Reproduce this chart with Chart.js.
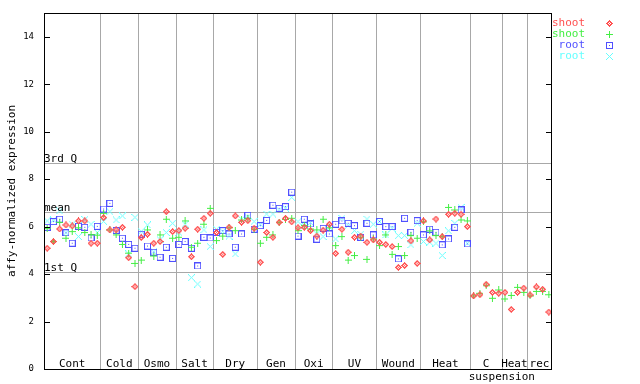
<!DOCTYPE html>
<html>
<head>
<meta charset="utf-8">
<script src="https://cdn.jsdelivr.net/npm/chart.js"></script>
<style>
  html, body { margin: 0; padding: 0; background: #fff; }
  #wrap { width: 640px; height: 384px; }
</style>
</head>
<body>
<div id="wrap"><canvas id="chart" width="640" height="384"></canvas></div>
<script>
// experiment groups along x, and how many samples each one holds
const groups = ['Cont', 'Cold', 'Osmo', 'Salt', 'Dry', 'Gen', 'Oxi', 'UV', 'Wound', 'Heat', 'C', 'Heat', 'rec'];
const groupSizes = [9, 6, 6, 6, 7, 6, 6, 7, 7, 8, 5, 4, 4];
const subLabel = { text: 'suspension', at: 73 };

const yTicks = [0, 2, 4, 6, 8, 10, 12, 14];
const quartileNames = ['3rd Q', 'mean', '1st Q'];
const quartileValues = [8.67, 6.60, 4.07];

// shoot (red diamonds)
const shootRed = [
  5.09, 5.37, 5.90, 6.07, 6.03, 6.24, 6.24, 5.30, 5.30,
  6.38, 5.86, 5.86, 5.97, 4.69, 3.47,
  5.54, 5.68, 5.30, 5.37, 6.63, 5.79,
  5.83, 5.93, 4.73, 5.89, 6.35, 6.56,
  5.75, 4.83, 5.97, 6.45, 6.18, 6.25, 5.93,
  4.50, 5.75, 5.55, 6.18, 6.35, 6.20,
  5.95, 5.97, 5.83, 5.60, 5.85, 6.10,
  4.87, 5.89, 4.92, 5.55, 5.60, 5.34, 5.44,
  5.34, 5.25, 5.16, 4.28, 4.36, 5.40, 4.45,
  6.24, 5.44, 6.32, 5.58, 6.52, 6.56, 6.52, 6.00,
  3.08, 3.13, 3.57, 3.23, 3.19,
  3.23, 2.51, 3.23, 3.41,
  3.12, 3.46, 3.36, 2.40
];
// shoot (green plus)
const shootGreen = [
  5.93, 5.37, 6.18, 5.51, 5.79, 5.95, 5.75, 5.66, 5.64,
  6.56, 5.86, 5.65, 5.25, 4.88, 4.45,
  4.59, 5.86, 4.76, 5.65, 6.31, 5.51,
  5.55, 6.24, 5.13, 5.30, 6.10, 6.77,
  5.41, 5.60, 5.95, 5.83, 6.28, 6.35, 5.89,
  5.30, 5.55, 5.65, 6.18, 6.30, 6.35,
  5.83, 6.05, 5.90, 5.86, 6.31, 5.95,
  5.20, 5.58, 4.59, 4.78, 5.53, 4.62, 5.48,
  5.20, 5.65, 4.83, 5.16, 4.78, 5.62, 5.51,
  6.20, 5.82, 5.62, 5.58, 6.81, 6.70, 6.28, 6.24,
  3.08, 3.19, 3.51, 2.98, 3.33,
  2.95, 3.10, 3.44, 3.23,
  3.08, 3.27, 3.27, 3.13
];
// root (blue squares), no suspension samples
const rootBlue = [
  5.97, 6.21, 6.31, 5.74, 5.30, 6.01, 5.97, 5.52, 6.01,
  6.74, 6.98, 5.84, 5.51, 5.25, 5.09,
  5.68, 5.18, 4.92, 4.71, 5.13, 4.66,
  5.25, 5.37, 5.09, 4.34, 5.55, 5.52,
  5.76, 5.83, 5.69, 5.13, 5.69, 6.48, 5.89,
  6.04, 6.26, 6.90, 6.77, 6.84, 7.45,
  5.60, 6.31, 6.11, 5.47, 5.93, 5.69,
  6.10, 6.24, 6.14, 6.04, 5.55, 6.14, 5.65,
  6.22, 6.00, 6.00, 4.64, 6.35, 5.76, 6.25,
  5.65, 5.89, 5.76, 5.23, 5.48, 5.97, 6.70, 5.27
];
// root (cyan crosses)
const rootCyan = [
  6.24, 6.28, 6.66, 5.74, 6.10, 5.58, 6.30, 6.10, 5.75,
  6.22, 6.63, 6.28, 6.45, 4.85, 6.39,
  5.80, 6.07, 4.94, 5.45, 5.75, 6.14,
  5.75, 6.10, 3.85, 3.58, 5.86, 5.16,
  5.89, 5.80, 5.60, 4.85, 6.31, 6.40, 6.21,
  6.10, 6.53, 6.53, 6.70, 6.78, 7.23,
  6.21, 6.05, 6.17, 5.70, 5.58, 5.97,
  5.48, 6.35, 6.05, 5.83, 5.68, 6.32, 6.10,
  6.21, 5.65, 5.93, 5.62, 5.62, 5.23, 6.14,
  5.37, 5.34, 5.30, 4.78, 5.82, 6.14, 6.81, 5.30
];

const RED = '#ff5050', GREEN = '#44ee44', BLUE = '#5050ff', CYAN = '#66ffff';
const MONO = '"DejaVu Sans Mono", "Liberation Mono", monospace';

// little pixel markers like the original plot
function marker(kind, color) {
  const c = document.createElement('canvas');
  c.width = 7; c.height = 7;
  const g = c.getContext('2d');
  g.fillStyle = color;
  for (let yy = 0; yy < 7; yy++) {
    for (let xx = 0; xx < 7; xx++) {
      const dx = Math.abs(xx - 3), dy = Math.abs(yy - 3);
      let on = false;
      if (kind === 'diamond') on = (dx + dy === 3) || (dx + dy < 3 && (xx + yy) % 2 === 0);
      if (kind === 'plus') on = dx === 0 || dy === 0;
      if (kind === 'square') on = Math.max(dx, dy) === 3 || (dx === 0 && dy === 0);
      if (kind === 'cross') on = dx === dy;
      if (on) g.fillRect(xx, yy, 1, 1);
    }
  }
  return c;
}

const series = [
  { label: 'shoot', color: RED, img: marker('diamond', RED), values: shootRed },
  { label: 'shoot', color: GREEN, img: marker('plus', GREEN), values: shootGreen },
  { label: 'root', color: BLUE, img: marker('square', BLUE), values: rootBlue },
  { label: 'root', color: CYAN, img: marker('cross', CYAN), values: rootCyan }
];

const totalSlots = groupSizes.reduce((s, n) => s + n, 0);

const decor = {
  id: 'decor',
  beforeDatasetsDraw(chart) {
    const { ctx, chartArea: a, scales: { x, y } } = chart;
    ctx.save();
    ctx.strokeStyle = '#a8a8a8';
    ctx.lineWidth = 1;
    ctx.beginPath();
    let acc = 0;
    groupSizes.forEach((n, i) => {
      acc += n;
      if (i === groupSizes.length - 1) return;
      const px = Math.round(x.getPixelForValue(acc)) + 0.5;
      ctx.moveTo(px, a.top);
      ctx.lineTo(px, a.bottom);
    });
    quartileValues.forEach(v => {
      const py = Math.round(y.getPixelForValue(v)) + 0.5;
      ctx.moveTo(a.left, py);
      ctx.lineTo(a.right, py);
    });
    ctx.stroke();
    ctx.restore();
  },
  afterDatasetsDraw(chart) {
    const { ctx, chartArea: a, scales: { x, y } } = chart;
    ctx.save();
    // frame + inside ticks on both sides
    ctx.strokeStyle = '#000';
    ctx.lineWidth = 1;
    ctx.strokeRect(a.left + 0.5, a.top + 0.5, a.right - a.left - 1, a.bottom - a.top);
    ctx.beginPath();
    yTicks.forEach(v => {
      const py = Math.round(y.getPixelForValue(v)) + 0.5;
      ctx.moveTo(a.left, py); ctx.lineTo(a.left + 6, py);
      ctx.moveTo(a.right - 6, py); ctx.lineTo(a.right, py);
    });
    ctx.stroke();

    ctx.fillStyle = '#000';
    ctx.font = '9px ' + MONO;
    ctx.textAlign = 'right';
    ctx.textBaseline = 'middle';
    yTicks.forEach(v => ctx.fillText(String(v), 34, y.getPixelForValue(v)));

    ctx.font = '11px ' + MONO;
    ctx.textAlign = 'left';
    ctx.textBaseline = 'alphabetic';
    quartileValues.forEach((v, i) => {
      ctx.fillText(quartileNames[i], a.left, Math.round(y.getPixelForValue(v)) - 1);
    });

    ctx.textAlign = 'center';
    let start = 0;
    groupSizes.forEach((n, i) => {
      ctx.fillText(groups[i], x.getPixelForValue(start + n / 2), a.bottom - 2);
      start += n;
    });
    ctx.fillText(subLabel.text, x.getPixelForValue(subLabel.at), a.bottom + 11);

    // y title
    ctx.save();
    ctx.translate(12, (a.top + a.bottom) / 2);
    ctx.rotate(-Math.PI / 2);
    ctx.textBaseline = 'middle';
    ctx.fillText('affy-normalized expression', 0, 0);
    ctx.restore();

    // legend
    ctx.textAlign = 'right';
    ctx.textBaseline = 'middle';
    series.forEach((s, i) => {
      const ly = 23 + i * 11;
      ctx.fillStyle = s.color;
      ctx.fillText(s.label, 585, ly);
      ctx.drawImage(s.img, 606, ly - 3);
    });
    ctx.restore();
  }
};

new Chart(document.getElementById('chart'), {
  type: 'scatter',
  data: {
    datasets: series.map(s => ({
      label: s.label,
      data: s.values.map((v, i) => ({ x: i + 0.5, y: v })),
      pointStyle: s.img,
      pointRadius: 3,
      pointHoverRadius: 3,
      clip: false
    }))
  },
  options: {
    responsive: false,
    animation: false,
    events: [],
    layout: { padding: { left: 44, top: 13, right: 88, bottom: 15 } },
    scales: {
      x: { type: 'linear', min: 0, max: totalSlots, display: false },
      y: { type: 'linear', min: 0, max: 15, display: false }
    },
    plugins: { legend: { display: false }, tooltip: { enabled: false } }
  },
  plugins: [decor]
});
</script>
</body>
</html>
